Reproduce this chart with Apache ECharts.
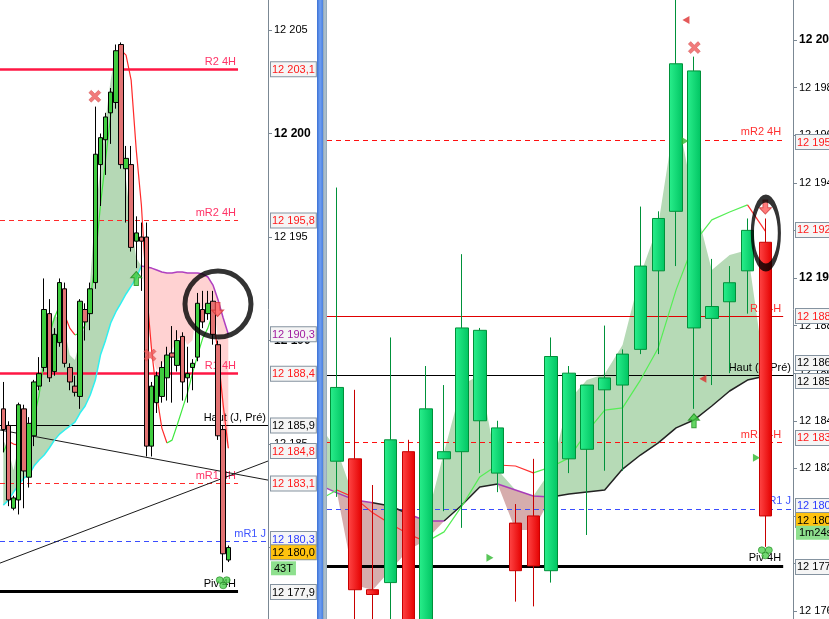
<!DOCTYPE html>
<html>
<head>
<meta charset="utf-8">
<script src="https://cdn.jsdelivr.net/npm/echarts@6.0.0/dist/echarts.min.js"></script>
<style>
html,body{margin:0;padding:0;background:#ffffff;overflow:hidden}
#chart{width:829px;height:619px}
</style>
</head>
<body>
<div id="chart"></div>
<script>
// ================= DATA : left panel =================
const leftOpen  = [12186.7,12185.9,12181.9,12182.3,12186.7,12183.4,12185.4,12187.8,12188.7,12191.3,12188.5,12189.9,12192.5,12188.7,12187.8,12187.3,12191.5,12191.3,12192.8,12198.5,12199.7,12201.0,12201.5,12204.3,12198.3,12198.5,12194.8,12195.0,12195.0,12184.9,12187.0,12187.3,12188.2,12189.4,12188.8,12190.2,12188.2,12188.7,12189.2,12191.5,12191.3,12191.9,12189.8,12185.7,12179.4];
const leftClose = [12185.7,12182.3,12182.4,12186.9,12183.7,12186.0,12188.0,12188.4,12191.5,12188.2,12190.3,12192.8,12188.9,12188.0,12187.5,12191.9,12190.9,12192.5,12199.0,12199.8,12200.8,12202.0,12204.0,12198.5,12198.8,12194.5,12195.2,12194.8,12184.9,12187.8,12188.3,12188.7,12189.3,12189.2,12190.0,12188.0,12188.4,12188.9,12191.8,12190.9,12191.8,12190.3,12185.4,12179.7,12180.0];
const leftLow   = [12184.6,12182.0,12181.8,12181.6,12181.9,12182.9,12184.9,12187.6,12188.5,12188.0,12188.3,12189.7,12188.7,12187.6,12187.3,12186.7,12190.0,12190.5,12192.5,12196.5,12198.0,12199.5,12201.2,12198.3,12195.7,12194.3,12193.5,12192.4,12184.4,12184.4,12186.5,12187.0,12187.1,12187.0,12188.5,12187.1,12187.0,12187.6,12189.0,12190.6,12191.0,12189.8,12185.2,12178.8,12179.3];
const leftHigh  = [12188.0,12186.1,12182.5,12187.0,12186.9,12186.3,12188.1,12189.2,12193.0,12192.0,12190.6,12193.0,12192.8,12188.9,12188.3,12192.0,12191.8,12192.8,12201.3,12200.0,12201.0,12202.2,12204.3,12204.4,12199.4,12199.4,12196.0,12195.7,12195.7,12188.0,12188.5,12189.0,12189.7,12190.7,12190.5,12190.4,12189.7,12189.1,12192.3,12192.4,12192.4,12192.4,12190.0,12185.9,12180.1];
// moving average (green rising / red falling), one value per candle
const leftMA = [12184.61,12185.14,12185.00,12184.95,12185.14,12185.58,12186.26,12187.37,12189.06,12190.27,12191.09,12191.72,12191.23,12190.60,12190.27,12190.36,12190.75,12191.96,12193.89,12196.55,12198.72,12200.89,12202.83,12204.03,12203.79,12202.58,12199.20,12196.55,12192.44,12189.54,12187.37,12185.77,12185.05,12185.19,12185.92,12186.69,12187.46,12188.43,12189.30,12190.12,12190.60,12191.33,12189.30,12186.88,12184.80];
// bullish cloud (candles 0..27): lower cyan line and upper edge
const leftBullStart = 0;
const leftBullLow  = [12182.05,12182.29,12182.68,12183.02,12183.36,12183.50,12183.94,12184.23,12184.47,12184.81,12185.19,12185.48,12185.68,12185.87,12186.06,12186.50,12186.84,12187.37,12188.09,12189.30,12190.02,12190.85,12191.38,12191.81,12192.25,12192.63,12193.02,12193.60];
const leftBullHigh = [12185.19,12184.71,12183.74,12184.95,12185.19,12185.68,12186.64,12188.09,12189.78,12190.51,12191.23,12190.99,12190.51,12189.30,12189.06,12190.02,12190.75,12192.92,12196.30,12198.24,12200.65,12202.58,12203.94,12201.62,12197.75,12195.58,12193.99,12193.60];
// bearish cloud (candles 27..44): upper purple line and lower edge
const leftBearStart = 27;
const leftBearHigh = [12193.60,12193.55,12193.50,12193.41,12193.31,12193.26,12193.26,12193.31,12193.31,12193.26,12193.26,12193.26,12193.21,12193.07,12192.68,12191.96,12191.09,12190.30];
const leftBearLow  = [12193.60,12191.96,12189.30,12188.57,12188.82,12189.30,12189.54,12190.02,12190.27,12189.78,12190.02,12191.72,12191.47,12191.86,12191.96,12190.02,12185.68,12184.71];
// two trend lines: value at left edge, value at right edge
const leftTrendStart = [12185.68, 12179.25];
const leftTrendEnd   = [12183.26, 12184.18];
const leftTicks = [12180, 12185, 12190, 12195, 12200, 12205];
const leftLevelNames  = ['R2 4H','mR2 4H','R1 4H','Haut (J, Pré)','mR1 4H','mR1 J','Piv 4H'];
const leftLevelValues = [12203.1, 12195.8, 12188.4, 12185.9, 12183.1, 12180.3, 12177.9];
const leftBoxTexts  = ['12 203,1','12 195,8','12 190,3','12 188,4','12 185,9','12 184,8','12 183,1','12 180,3','12 180,0','43T','12 177,9'];
const leftBoxValues = [12203.1, 12195.8, 12190.3, 12188.4, 12185.9, 12184.66, 12183.1, 12180.41, 12179.78, 12179.0, 12177.85];
const leftBoxKinds  = ['red','red','purple','red','black','red','red','blue','price','timer','black'];
const leftMarkX    = [17.9, 28.7, 26.0, 41.9, 43.0];
const leftMarkY    = [12201.8, 12189.3, 12193.0, 12191.5, 12178.3];
const leftMarkKind = ['cross','cross','up','down','club'];
const leftCircle = [41.98, 12191.76];

// ================= DATA : right panel =================
const rightOpen  = [12182.3,12182.4,12176.9,12177.2,12182.7,12175.3,12182.4,12182.7,12184.0,12181.8,12179.7,12180.0,12177.7,12182.4,12182.8,12185.3,12185.5,12187.0,12190.3,12192.8,12187.9,12188.3,12189.0,12190.3,12191.5];
const rightClose = [12185.4,12176.9,12176.7,12183.2,12175.2,12184.5,12182.7,12187.9,12187.8,12183.7,12177.7,12177.9,12186.7,12186.0,12185.5,12185.8,12186.8,12190.5,12192.5,12199.0,12198.7,12188.8,12189.8,12192.0,12180.0];
const rightLow   = [12180.8,12175.3,12175.2,12175.3,12174.8,12174.9,12180.2,12179.5,12181.8,12181.0,12176.4,12176.2,12177.2,12181.8,12179.2,12181.9,12181.9,12186.8,12186.8,12190.5,12184.5,12185.5,12186.0,12188.5,12178.7];
const rightHigh  = [12193.8,12185.3,12181.3,12187.5,12183.2,12186.3,12185.5,12191.0,12187.9,12184.0,12180.5,12182.4,12187.5,12186.3,12185.5,12188.0,12187.0,12193.0,12192.8,12202.0,12199.3,12190.8,12190.5,12192.5,12192.5];
// indicators on right panel start one candle before the first visible one (x = -1 .. 24)
const rightIndStart = -1;
const rightMA = [12180.67,12181.09,12180.76,12180.13,12179.66,12179.24,12178.91,12179.33,12180.42,12181.64,12182.14,12182.10,12181.81,12182.06,12182.44,12183.53,12184.45,12184.54,12185.71,12187.06,12189.50,12191.47,12192.44,12192.77,12193.07,12191.97];
const rightCloudLine = [12181.30,12180.97,12180.67,12180.55,12180.42,12180.08,12179.79,12179.79,12180.46,12181.22,12181.34,12181.09,12180.84,12180.80,12180.92,12181.01,12181.09,12181.97,12182.56,12183.07,12183.70,12184.03,12184.62,12185.25,12185.71,12185.88];
const rightCloudBear = [1,1,1,0,0,1,1,0,0,0,1,1,1,0,0,0,0,0,0,0,0,0,0,0,0,0];
const rightBullHigh = [12183.82,12182.77,null,null,null,null,null,12182.69,12185.50,12185.92,12181.93,null,null,12181.93,12184.87,12185.71,12185.97,12187.18,12190.13,12192.23,12197.06,12193.28,12190.34,12190.97,12191.18,null];
const rightBearLow  = [null,null,12177.10,12176.89,12177.73,12178.57,12178.99,null,null,null,null,12179.41,12179.41,null,null,null,null,null,null,null,null,null,null,null,null,null];
const rightTicks = [12176,12178,12180,12182,12184,12186,12188,12190,12192,12194,12196,12198,12200];
const rightLevelNames  = ['mR2 4H','R1 4H','Haut (J, Pré)','mR1 4H','mR1 J','Piv 4H'];
const rightLevelValues = [12195.8, 12188.4, 12185.9, 12183.1, 12180.3, 12177.9];
const rightBoxTexts  = ['12 195,8','12 192,0','12 188,4','12 186,4','12 185,9','12 183,1','12 180,3','12 180,0','1m24s','12 177,9'];
const rightBoxValues = [12195.71, 12192.02, 12188.40, 12186.43, 12185.67, 12183.28, 12180.42, 12179.83, 12179.29, 12177.86];
const rightBoxKinds  = ['red','red','red','black','black','red','blue','price','timer','black'];
const rightMarkX    = [19.55, 20.02, 19.5, 24.0, 20.5, 20.0, 23.5, 8.57, 24.0];
const rightMarkY    = [12200.84, 12199.68, 12195.76, 12192.98, 12185.76, 12184.0, 12182.45, 12178.24, 12178.45];
const rightMarkKind = ['tl','cross','tr','down','tl','up','tr','tr','club'];
const rightCircle = [24.03, 12191.89];

// ================= STYLES / LAYOUT =================
const FF = '"Liberation Sans", Arial, sans-serif';
const LX = {min: -0.645, max: 51.76, levelEnd: 45.9};
const RX = {min: -0.56, max: 25.55, levelEnd: 25.0};
const LY = {min: 12176.55, max: 12206.45};
const RY = {min: 12175.67, max: 12201.68};

const levelStyleLeft = {
  'R2 4H':        {color:'#ff1744', width:2.5, type:'solid', label:'#ff3366'},
  'mR2 4H':       {color:'#ff2a2a', width:1,   type:[5,4],   label:'#ff3366'},
  'R1 4H':        {color:'#ff1744', width:2.5, type:'solid', label:'#ff3366'},
  'Haut (J, Pré)':{color:'#000000', width:1,   type:'solid', label:'#000000', full:true},
  'mR1 4H':       {color:'#ff2a2a', width:1,   type:[5,4],   label:'#ff3366'},
  'mR1 J':        {color:'#3a4dff', width:1,   type:[5,4],   label:'#3f55ff', full:true},
  'Piv 4H':       {color:'#000000', width:3,   type:'solid', label:'#000000'}
};
const levelStyleRight = {
  'mR2 4H':       {color:'#ff1010', width:1,   type:[5,4],   label:'#ff3030'},
  'R1 4H':        {color:'#e00000', width:1,   type:'solid', label:'#ff3030'},
  'Haut (J, Pré)':{color:'#000000', width:1,   type:'solid', label:'#000000', full:true},
  'mR1 4H':       {color:'#ff1010', width:1,   type:[5,4],   label:'#ff3030'},
  'mR1 J':        {color:'#3a4dff', width:1,   type:[5,4],   label:'#3f55ff', full:true},
  'Piv 4H':       {color:'#000000', width:3,   type:'solid', label:'#000000'}
};

const boxBase = {fontSize:11, fontFamily:FF, backgroundColor:'#f5f5f5', borderColor:'#8593a0', borderWidth:1, padding:[2,1,1,1], lineHeight:13};
const boxRich = {
  red:   Object.assign({}, boxBase, {color:'#ff1a1a'}),
  purple:Object.assign({}, boxBase, {color:'#a01ca0'}),
  black: Object.assign({}, boxBase, {color:'#000000'}),
  blue:  Object.assign({}, boxBase, {color:'#2b3bff'}),
  price: Object.assign({}, boxBase, {color:'#000000', backgroundColor:'#ffc20e'}),
  timer: Object.assign({}, boxBase, {color:'#000000', backgroundColor:'#8ee08e', borderWidth:0, padding:[2,3,1,3]})
};

const CLUB = 'path://M6,3 A3,3 0 1,1 0,3 A3,3 0 1,1 6,3 Z M12,3 A3,3 0 1,1 6,3 A3,3 0 1,1 12,3 Z M9,8 A3,3 0 1,1 3,8 A3,3 0 1,1 9,8 Z';
const markerStyles = {
  cross:{symbol:'path://M0,2 L2,0 L5,3 L8,0 L10,2 L7,5 L10,8 L8,10 L5,7 L2,10 L0,8 L3,5 Z', symbolSize:[12,12], symbolRotate:0, itemStyle:{color:'#ee5a5a', borderColor:'#c83c3c', borderWidth:0.5}},
  up:   {symbol:'path://M5,0 L10,5 L7,5 L7,11 L3,11 L3,5 L0,5 Z', symbolSize:[11,14], symbolRotate:0, itemStyle:{color:'#3fcc3f', borderColor:'#1a8a1a', borderWidth:1}},
  down: {symbol:'path://M3,0 L7,0 L7,6 L10,6 L5,11 L0,6 L3,6 Z', symbolSize:[12,14], symbolRotate:0, itemStyle:{color:'#ff5a5a', borderColor:'#d03a3a', borderWidth:1}},
  tl:   {symbol:'triangle', symbolSize:[8,7], symbolRotate:90, itemStyle:{color:'#dd3030'}},
  tr:   {symbol:'triangle', symbolSize:[8,7], symbolRotate:-90, itemStyle:{color:'#2fb82f'}},
  club: {symbol:CLUB, symbolSize:[14,12], symbolRotate:0, itemStyle:{color:'#4fcf4f', borderColor:'#228822', borderWidth:0.8}}
};

// ================= HELPERS =================
function fmtTick(v){ return String(v).replace(/\B(?=(\d{3})+(?!\d))/g, ' '); }
function nearest(arr, v){ let b=0; for (let i=1;i<arr.length;i++) if (Math.abs(arr[i]-v) < Math.abs(arr[b]-v)) b=i; return b; }
function idx(start, n){ const a=[]; for(let i=0;i<n;i++) a.push(start+i); return a; }

function band(ax, xs, top, bottom, fill){
  return {
    type:'custom', xAxisIndex:ax, yAxisIndex:ax, silent:true, z:0, clip:true,
    data:[[xs[0], top[0]]],
    renderItem: function(params, api){
      const pts = [];
      for (let i=0;i<xs.length;i++) pts.push(api.coord([xs[i], top[i]]));
      for (let i=xs.length-1;i>=0;i--) pts.push(api.coord([xs[i], bottom[i]]));
      return {type:'polygon', shape:{points:pts}, style:{fill:fill}};
    }
  };
}
function runs(ax, xs, vs, colorOf, width, z){
  const list=[]; let cur=null, curC=null;
  for (let i=0;i<vs.length-1;i++){
    const c = colorOf(i);
    if (c !== curC){ cur=[[xs[i], vs[i]]]; list.push({c:c, pts:cur}); curC=c; }
    cur.push([xs[i+1], vs[i+1]]);
  }
  return list.map(r => ({type:'line', xAxisIndex:ax, yAxisIndex:ax, data:r.pts, symbol:'none', silent:true, z:z, clip:true, lineStyle:{color:r.c, width:width}}));
}
function levelLines(names, values, styles, X){
  return names.map((n,i) => {
    const s = styles[n];
    const x1 = s.full ? X.max : X.levelEnd;
    return [
      {coord:[X.min, values[i]], lineStyle:{color:s.color, width:s.width, type:s.type},
       label:{show:true, position:'insideEndTop', formatter:n, color:s.label, fontSize:11, fontFamily:FF, distance:2}},
      {coord:[x1, values[i]]}
    ];
  });
}
function markers(ax, xs, ys, kinds){
  return {
    type:'scatter', xAxisIndex:ax, yAxisIndex:ax, z:4, silent:true, clip:false,
    data: xs.map((x,i) => Object.assign({value:[x, ys[i]]}, markerStyles[kinds[i]]))
  };
}
function ellipse(ax, c, size){
  return {type:'scatter', xAxisIndex:ax, yAxisIndex:ax, z:5, silent:true, clip:false,
    data:[{value:c, symbol:'circle', symbolSize:size, itemStyle:{color:'rgba(0,0,0,0)', borderColor:'#000', borderWidth:5}}]};
}
function mainY(grid, Y, ticks){
  return {
    gridIndex:grid, type:'value', position:'right', min:Y.min, max:Y.max, scale:true,
    splitLine:{show:false},
    axisLine:{show:true, onZero:false, lineStyle:{color:'#7b8894', width:1}},
    axisTick:{show:true, customValues:ticks, length:4, inside:false, lineStyle:{color:'#7b8894'}},
    axisLabel:{customValues:ticks, margin:6, color:'#000', fontSize:11, fontFamily:FF,
      formatter: v => (v % 10 === 0 ? '{b|' + fmtTick(v) + '}' : fmtTick(v)),
      rich:{b:{fontWeight:'bold', fontSize:12, color:'#000', fontFamily:FF}}}
  };
}
function boxY(grid, Y, vals, texts, kinds){
  return {
    gridIndex:grid, type:'value', position:'right', min:Y.min, max:Y.max, scale:true, z:6,
    splitLine:{show:false}, axisLine:{show:false}, axisTick:{show:false},
    axisLabel:{customValues:vals, margin:3, fontSize:11, fontFamily:FF,
      formatter: v => { const j = nearest(vals, v); return '{' + kinds[j] + '|' + texts[j] + '}'; },
      rich: boxRich}
  };
}

// ================= SERIES =================
const series = [];
// clouds
const lBullX = idx(leftBullStart, leftBullLow.length);
series.push(band(0, lBullX, leftBullHigh, leftBullLow, '#b5d8b5'));
const lBearX = idx(leftBearStart, leftBearHigh.length);
series.push(band(0, lBearX, leftBearHigh, leftBearLow, '#ffd2d2'));
const rX = idx(rightIndStart, rightCloudLine.length);
series.push(band(2, rX, rightBullHigh.map((v,i)=> v==null ? rightCloudLine[i] : v), rightCloudLine, '#b6dab6'));
series.push(band(2, rX, rightCloudLine, rightBearLow.map((v,i)=> v==null ? rightCloudLine[i] : v), '#d6adad'));
// cloud edge lines
series.push({type:'line', xAxisIndex:0, yAxisIndex:0, data:lBullX.map((x,i)=>[x, leftBullLow[i]]), symbol:'none', silent:true, z:2, lineStyle:{color:'#2ff0f0', width:1.5}});
series.push({type:'line', xAxisIndex:0, yAxisIndex:0, data:lBearX.map((x,i)=>[x, leftBearHigh[i]]), symbol:'none', silent:true, z:2, lineStyle:{color:'#b040c0', width:1.5}});
runs(2, rX, rightCloudLine, i => rightCloudBear[i] ? '#a83cb8' : '#222222', 1.5, 2).forEach(s => series.push(s));
// trend lines + level lines (left)
leftTrendStart.forEach((v,i) => {
  const s = {type:'line', xAxisIndex:0, yAxisIndex:0, data:[[LX.min, v],[LX.max, leftTrendEnd[i]]], symbol:'none', silent:true, z:1, lineStyle:{color:'#1a1a1a', width:1}};
  if (i === 0) s.markLine = {silent:true, symbol:['none','none'], z:1, animation:false, data: levelLines(leftLevelNames, leftLevelValues, levelStyleLeft, LX)};
  series.push(s);
});
// level lines (right)
series.push({type:'line', xAxisIndex:2, yAxisIndex:2, data:[[RX.min, rightLevelValues[2]]], symbol:'none', showSymbol:false, silent:true, z:1, lineStyle:{width:0},
  markLine:{silent:true, symbol:['none','none'], z:1, animation:false, data: levelLines(rightLevelNames, rightLevelValues, levelStyleRight, RX)}});
// moving averages
const lMX = idx(0, leftMA.length);
runs(0, lMX, leftMA, i => leftMA[i+1] >= leftMA[i] ? '#3ee83e' : '#ff2a2a', 1.2, 2).forEach(s => series.push(s));
runs(2, rX, rightMA, i => rightMA[i+1] >= rightMA[i] ? '#55ee55' : '#ff3030', 1.2, 2).forEach(s => series.push(s));
// candles
series.push({
  type:'candlestick', xAxisIndex:0, yAxisIndex:0, z:3, barWidth:5, clip:true, silent:true,
  data: leftOpen.map((o,i) => [i, o, leftClose[i], leftLow[i], leftHigh[i]]),
  itemStyle:{color:'#3fcc3f', color0:'#e27272', borderColor:'#000000', borderColor0:'#000000', borderColorDoji:'#000000', borderWidth:1}
});
const gUp = new echarts.graphic.LinearGradient(0,0,1,0,[{offset:0,color:'#2aef8c'},{offset:1,color:'#00c462'}]);
const gDn = new echarts.graphic.LinearGradient(0,0,1,0,[{offset:0,color:'#ff4646'},{offset:1,color:'#e40000'}]);
series.push({
  type:'candlestick', xAxisIndex:2, yAxisIndex:2, z:3, barWidth:13, clip:true, silent:true,
  data: rightOpen.map((o,i) => [i, o, rightClose[i], rightLow[i], rightHigh[i]]),
  itemStyle:{color:gUp, color0:gDn, borderColor:'#00913a', borderColor0:'#c80000', borderColorDoji:'#00913a', borderWidth:1}
});
// markers & circles
series.push(markers(0, leftMarkX, leftMarkY, leftMarkKind));
series.push(markers(2, rightMarkX, rightMarkY, rightMarkKind));
series.push(ellipse(0, leftCircle, [66, 66]));
series.push(ellipse(2, rightCircle, [27, 69]));

// ================= OPTION =================
const grids = [
  {left:0, top:0, width:268, height:619, containLabel:false, outerBoundsMode:'none'},
  {left:0, top:0, width:268, height:619, containLabel:false, outerBoundsMode:'none'},
  {left:327, top:0, width:466, height:619, containLabel:false, outerBoundsMode:'none'},
  {left:327, top:0, width:466, height:619, containLabel:false, outerBoundsMode:'none'}
];
const xb = {type:'value', show:false, splitLine:{show:false}};
const option = {
  animation:false,
  backgroundColor:'#ffffff',
  textStyle:{fontFamily:FF},
  grid: grids,
  xAxis:[
    Object.assign({gridIndex:0, min:LX.min, max:LX.max}, xb),
    Object.assign({gridIndex:1, min:LX.min, max:LX.max}, xb),
    Object.assign({gridIndex:2, min:RX.min, max:RX.max}, xb),
    Object.assign({gridIndex:3, min:RX.min, max:RX.max}, xb)
  ],
  yAxis:[
    mainY(0, LY, leftTicks),
    boxY(1, LY, leftBoxValues, leftBoxTexts, leftBoxKinds),
    mainY(2, RY, rightTicks),
    boxY(3, RY, rightBoxValues, rightBoxTexts, rightBoxKinds)
  ],
  graphic:[
    {type:'rect', z:100, shape:{x:317, y:0, width:6, height:619},
     style:{fill:new echarts.graphic.LinearGradient(0,0,1,0,[{offset:0,color:'#3b70d4'},{offset:0.5,color:'#6e9ff2'},{offset:1,color:'#4a80e0'}])}},
    {type:'rect', z:100, shape:{x:323, y:0, width:4, height:619},
     style:{fill:new echarts.graphic.LinearGradient(0,0,1,0,[{offset:0,color:'#8ea4b4'},{offset:0.5,color:'#b4c6d2'},{offset:1,color:'#8ea4b4'}])}}
  ],
  series: series
};
const chart = echarts.init(document.getElementById('chart'), null, {renderer:'canvas'});
chart.setOption(option);
</script>
</body>
</html>
